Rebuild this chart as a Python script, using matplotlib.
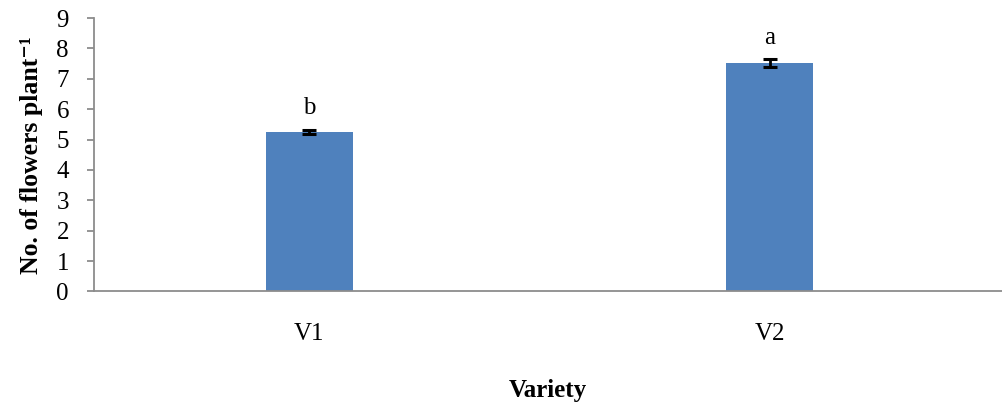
import matplotlib.pyplot as plt

plt.rcParams['font.family'] = ['Liberation Serif', 'DejaVu Serif']

varieties = ["V1", "V2"]
flowers = [5.25, 7.52]
errors = [0.08, 0.13]
letters = ["b", "a"]

fig = plt.figure(figsize=(10.03, 4.03), dpi=100)
ax = fig.add_axes([0.0937, 0.2767, 0.9053, 0.6786])

x = range(len(varieties))
ax.bar(x, flowers, width=0.19, color="#4F81BD", zorder=2)
ax.errorbar(x, flowers, yerr=errors, fmt="none", ecolor="black",
            elinewidth=2, capsize=4.7, capthick=2.2, zorder=3)

for xi, v, e, lab in zip(x, flowers, errors, letters):
    ax.text(xi, v + e + 0.5, lab, ha="center", va="baseline", fontsize=18)

ax.set_xlim(-0.468, 1.505)
ax.set_ylim(0, 9)
ax.set_yticks(range(0, 10))
ax.set_xticks(list(x))
ax.set_xticklabels(varieties)

for s in ["top", "right"]:
    ax.spines[s].set_visible(False)
for s in ["left", "bottom"]:
    ax.spines[s].set_color("#8c8c8c")
    ax.spines[s].set_linewidth(1.3)

ax.tick_params(axis="y", length=5, width=1.3, color="#8c8c8c",
               labelsize=18, pad=13)
ax.tick_params(axis="x", length=0, labelsize=18, pad=23)

ax.set_ylabel("No. of flowers plant\u207b\u00b9", fontsize=18.5,
              fontweight="bold", labelpad=10)
ax.set_xlabel("Variety", fontsize=18, fontweight="bold", labelpad=24)

fig.savefig("out.png", dpi=100)
